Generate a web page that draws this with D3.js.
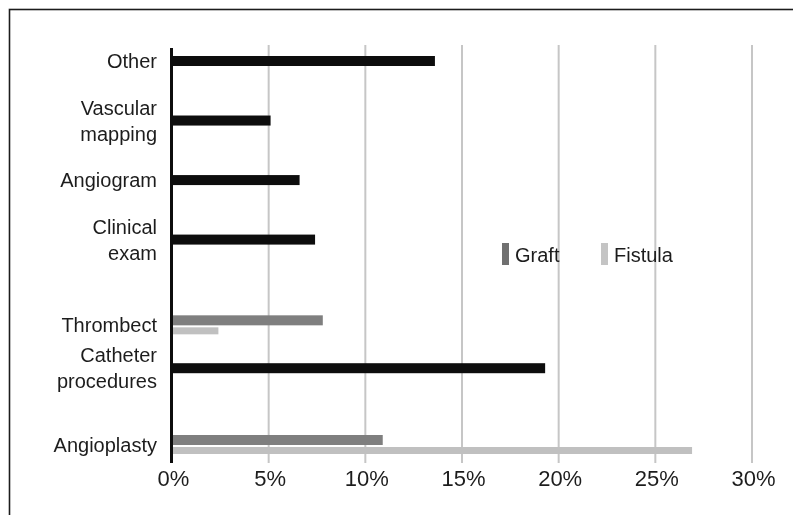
<!DOCTYPE html>
<html>
<head>
<meta charset="utf-8">
<script src="https://cdn.jsdelivr.net/npm/d3@7"></script>
<style>
  html, body { margin: 0; padding: 0; background: #fff; }
  svg { display: block; }
  text { font-family: "Liberation Sans", Arial, sans-serif; fill: #1e1e1e; }
</style>
</head>
<body>
<svg id="chart" width="793" height="515"></svg>
<script>
// Access procedures, share of patients (%)
const categories = ["Other", "Vascular mapping", "Angiogram", "Clinical exam",
                    "Thrombect", "Catheter procedures", "Angioplasty"];
const overall = [13.6, 5.1, 6.6, 7.4, null, 19.3, null];   // no access-type split
const graft   = [null, null, null, null, 7.8, null, 10.9];
const fistula = [null, null, null, null, 2.4, null, 26.9];
const xTicks  = [0, 5, 10, 15, 20, 25, 30];
const legendItems = ["Graft", "Fistula"];

// row layout (rows are not evenly spaced in this figure)
const rowSlot = [0, 1, 2, 3, 4.44, 5.16, 6.45];

const svg = d3.select("#chart");
const W = 793, H = 515;

const defs = svg.append("defs");
defs.append("filter").attr("id", "soft")
  .attr("x", "-5%").attr("y", "-5%").attr("width", "110%").attr("height", "110%")
  .append("feGaussianBlur").attr("stdDeviation", 0.55);

const root = svg.append("g").attr("filter", "url(#soft)");

// outer frame (only top and left edges fall inside the view)
root.append("rect")
  .attr("x", 9.5).attr("y", 9.5).attr("width", W + 20).attr("height", H + 20)
  .attr("fill", "none").attr("stroke", "#1a1a1a").attr("stroke-width", 1.6);

const x = d3.scaleLinear().domain([0, 30]).range([172, 752]);
const y = d3.scaleLinear().domain([0, 6.45]).range([61, 445]);

const plotTop = 45, plotBottom = 463;

// vertical gridlines
root.append("g").selectAll("line")
  .data(xTicks.filter(t => t > 0))
  .join("line")
  .attr("x1", d => x(d)).attr("x2", d => x(d))
  .attr("y1", plotTop).attr("y2", plotBottom)
  .attr("stroke", "#c6c6c6").attr("stroke-width", 2);

// x tick labels via axis generator
const xAxis = d3.axisBottom(x).tickValues(xTicks).tickFormat(d => d + "%").tickSize(0).tickPadding(0);
const gx = root.append("g").attr("transform", `translate(0,${plotBottom})`).call(xAxis);
gx.select(".domain").remove();
gx.selectAll("text")
  .attr("y", 0).attr("dy", 0)
  .attr("transform", "translate(1,23)")
  .style("font-size", "22px")
  .style("font-family", "'Liberation Sans', Arial, sans-serif")
  .attr("fill", "#1e1e1e");

const rows = categories.map((c, i) => ({
  cat: c, cy: y(rowSlot[i]), overall: overall[i], graft: graft[i], fistula: fistula[i]
}));

// bars
const barsG = root.append("g");
barsG.selectAll("rect.overall")
  .data(rows.filter(r => r.overall != null))
  .join("rect").attr("class", "overall")
  .attr("x", x(0)).attr("y", d => d.cy - 5)
  .attr("width", d => x(d.overall) - x(0)).attr("height", 10)
  .attr("fill", "#0c0c0c");

barsG.selectAll("rect.graft")
  .data(rows.filter(r => r.graft != null))
  .join("rect").attr("class", "graft")
  .attr("x", x(0)).attr("y", d => d.cy - 10)
  .attr("width", d => x(d.graft) - x(0)).attr("height", 10)
  .attr("fill", "#7f7f7f");

barsG.selectAll("rect.fistula")
  .data(rows.filter(r => r.fistula != null))
  .join("rect").attr("class", "fistula")
  .attr("x", x(0)).attr("y", d => d.cy + 2)
  .attr("width", d => x(d.fistula) - x(0)).attr("height", 7)
  .attr("fill", "#c0c0c0");

// category axis line
root.append("line")
  .attr("x1", 171.5).attr("x2", 171.5).attr("y1", 48).attr("y2", plotBottom)
  .attr("stroke", "#0c0c0c").attr("stroke-width", 3);

// category labels, wrapped to two lines where needed
const wrap = {
  "Vascular mapping": ["Vascular", "mapping"],
  "Clinical exam": ["Clinical", "exam"],
  "Catheter procedures": ["Catheter", "procedures"]
};
const lineH = 26;
rows.forEach(r => {
  const lines = wrap[r.cat] || [r.cat];
  const t = root.append("text")
    .attr("text-anchor", "end")
    .style("font-size", "20px");
  lines.forEach((ln, k) => {
    t.append("tspan")
      .attr("x", 157)
      .attr("y", r.cy + 7 + (k - (lines.length - 1) / 2) * lineH)
      .text(ln);
  });
});

// legend
const legendColor = ["#6f6f6f", "#c4c4c4"];
const legendX = [502, 601];
const lg = root.append("g");
legendItems.forEach((name, i) => {
  lg.append("rect")
    .attr("x", legendX[i]).attr("y", 243).attr("width", 7).attr("height", 22)
    .attr("fill", legendColor[i]);
  lg.append("text")
    .attr("x", legendX[i] + 13).attr("y", 262)
    .style("font-size", "20px")
    .text(name);
});
</script>
</body>
</html>
